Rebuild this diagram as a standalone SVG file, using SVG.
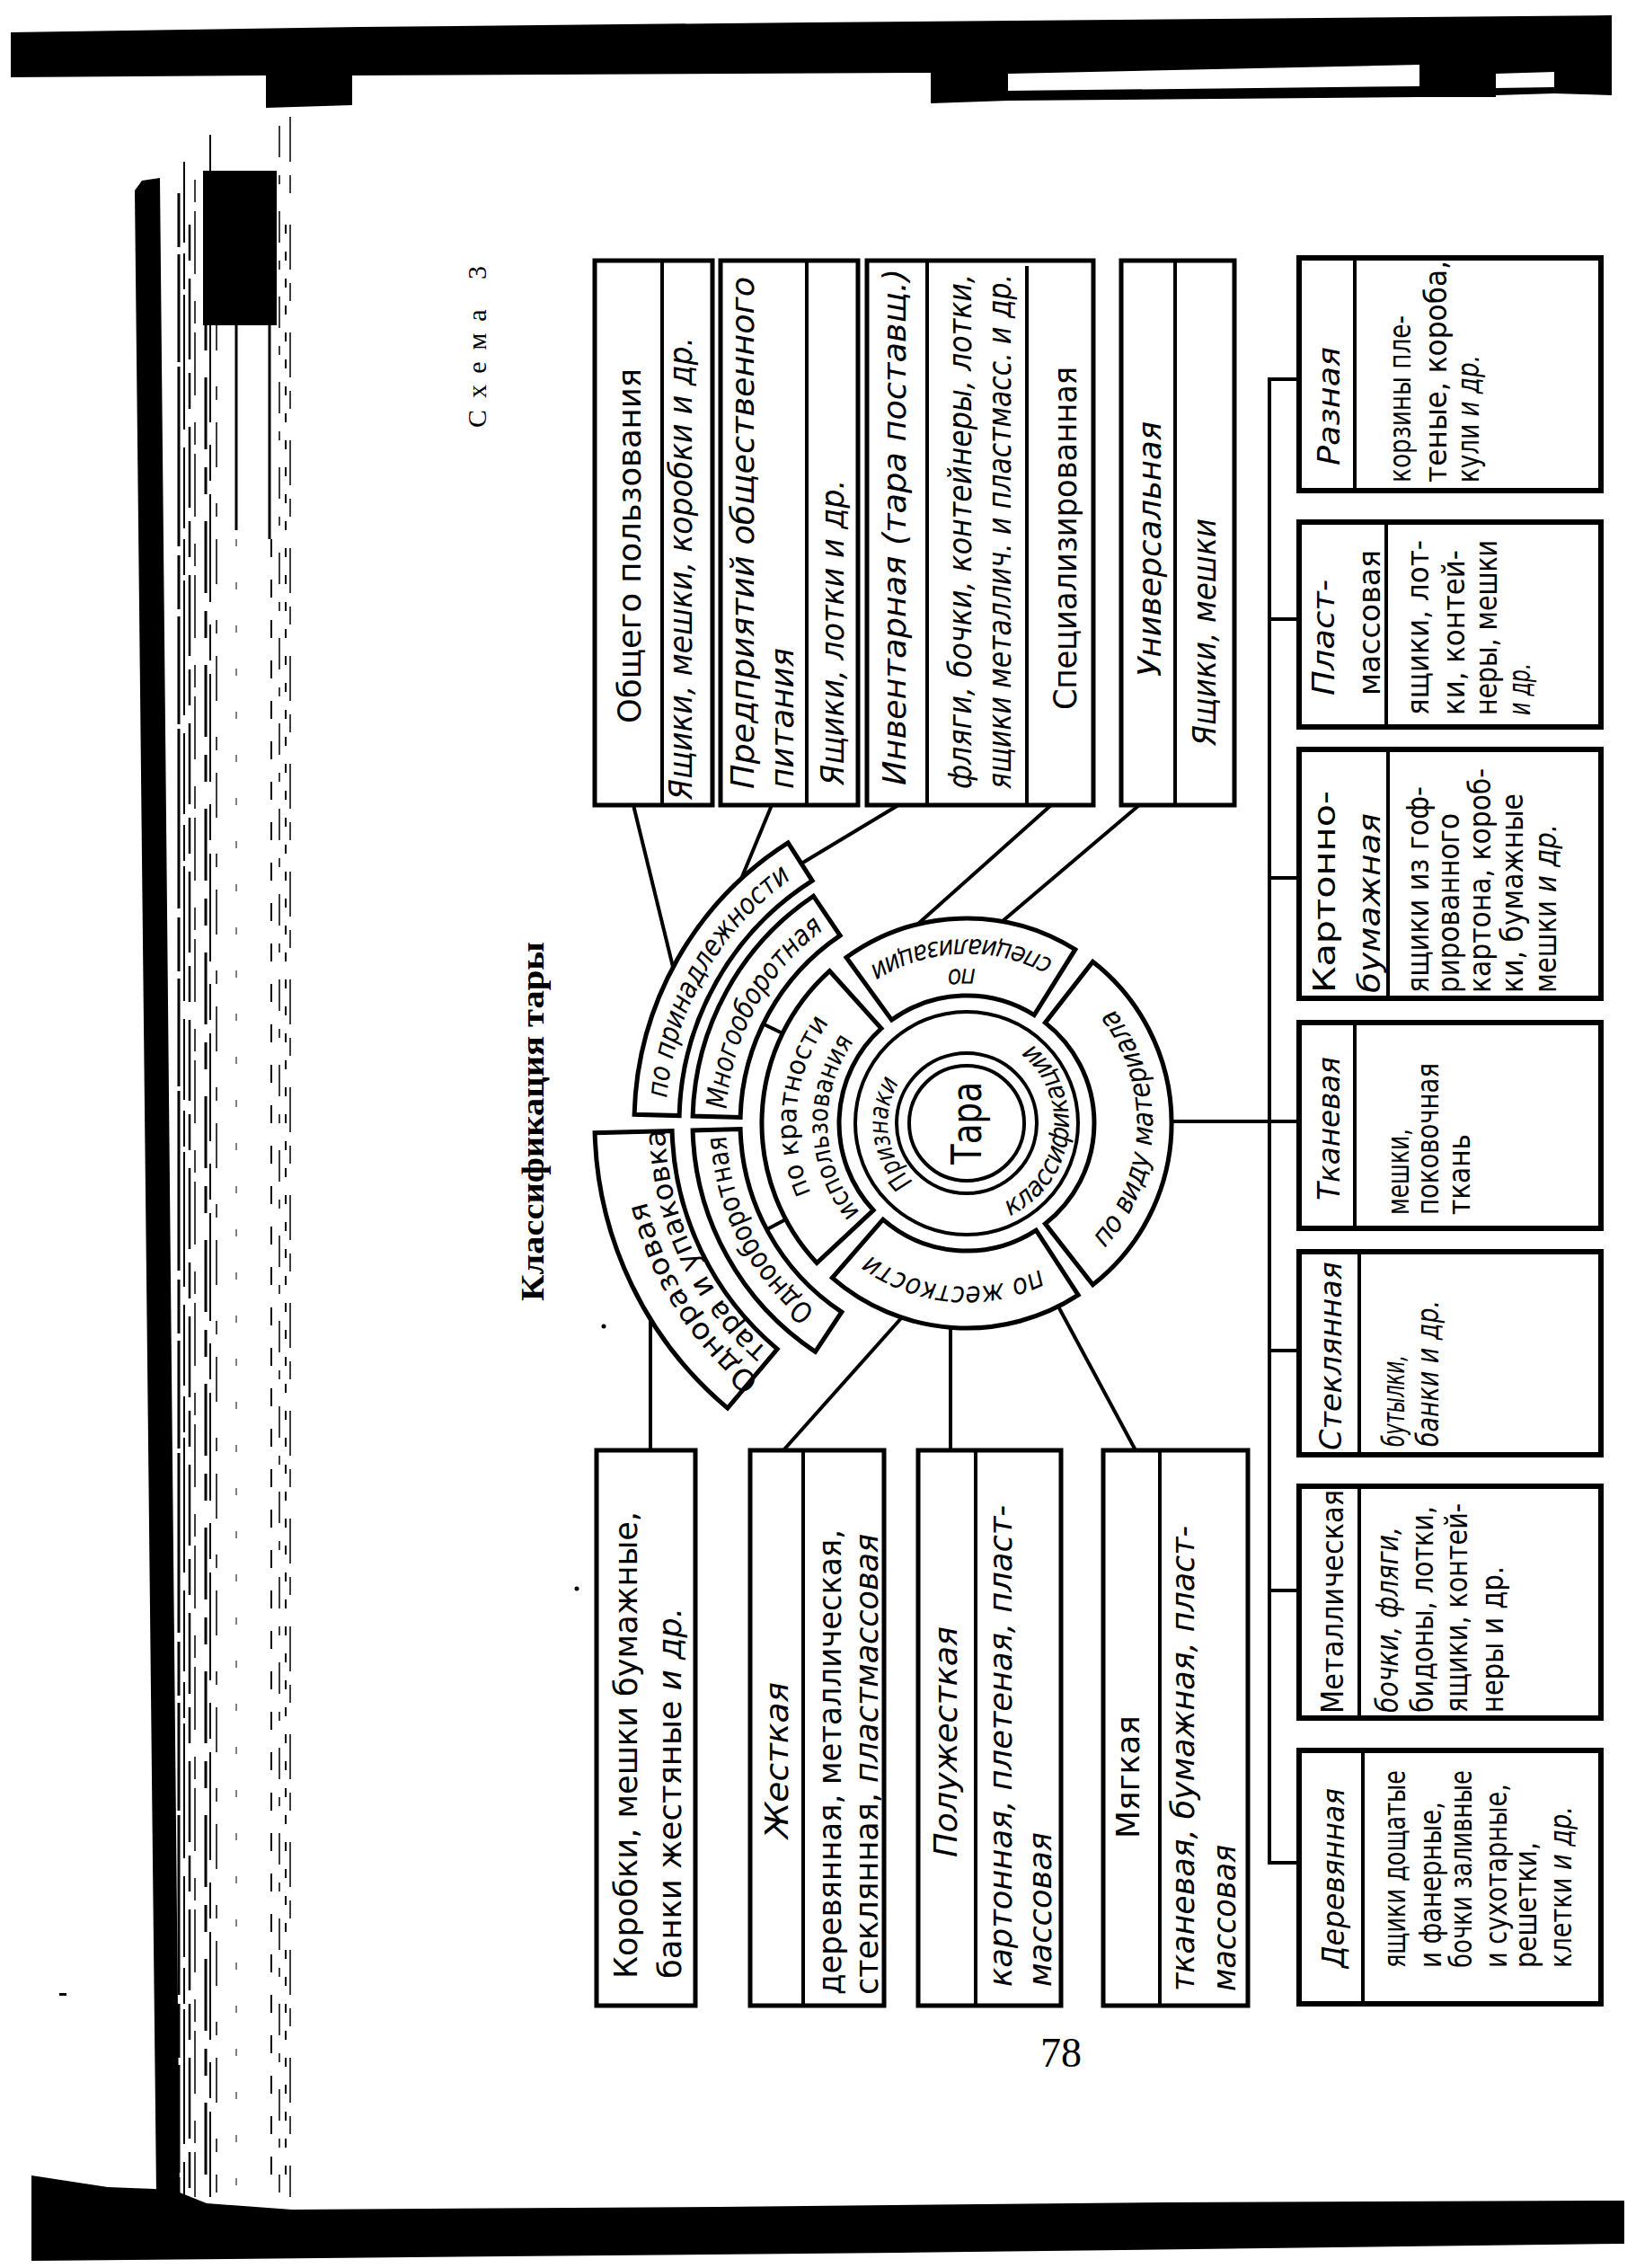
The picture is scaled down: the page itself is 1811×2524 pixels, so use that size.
<svg xmlns="http://www.w3.org/2000/svg" width="1811" height="2524" viewBox="0 0 1811 2524">
<defs>
<style>
.box{fill:#fff;stroke:#000;stroke-width:5}
.mbox{fill:#fff;stroke:#000;stroke-width:6}
.dv{stroke:#000;stroke-width:4}
.seg{fill:#fff;stroke:#000;stroke-width:5}
.ring{fill:none;stroke:#000;stroke-width:4}
.cn path{fill:none;stroke:#000;stroke-width:4}
.t{font-family:'Liberation Sans Narrow','Arial Narrow','DejaVu Sans Condensed','Liberation Sans',sans-serif;fill:#000}
.i{font-style:italic}
.s36{font-size:36px}.s34{font-size:34px}.s32{font-size:32px}.s30{font-size:30px}.s46{font-size:46px}
.sf{font-family:'Liberation Serif','Times New Roman',serif;fill:#000}
.ink{fill:#000}
.edge{fill:none;stroke:#000}
</style>
<path id="aPriz" d="M1072.9,1337.9 A88,88 0 0 1 1048.8,1166.3"/>
<path id="aKlass" d="M1082.0,1363.8 A114,114 0 0 0 1109.3,1141.0"/>
<path id="aKrat1" d="M1023.6,1432.6 A190,190 0 0 1 1062.7,1060.5"/>
<path id="aKrat2" d="M1054.4,1403.5 A155,155 0 0 1 1043.8,1098.4"/>
<path id="aSpec1" d="M1244.2,1214.2 A172,172 0 0 0 905.7,1226.1"/>
<path id="aSpec2" d="M1276.5,1207.4 A205,205 0 0 0 873.0,1221.5"/>
<path id="aVid" d="M1104.8,1455.0 A207,207 0 0 0 1119.0,1047.5"/>
<path id="aZhest" d="M1251.8,1297.1 A182,182 0 0 1 894.7,1265.9"/>
<path id="aMnogo" d="M909.2,1459.7 A268,268 0 0 1 1161.0,995.9"/>
<path id="aOdnoob" d="M1154.4,1506.3 A268,268 0 0 1 914.7,1036.0"/>
<path id="aPrin" d="M862.5,1508.1 A335,335 0 0 1 1188.4,934.4"/>
<path id="aOdnoraz1" d="M1215.9,1589.3 A367,367 0 0 1 828.5,979.0"/>
<path id="aOdnoraz2" d="M1163.0,1574.5 A336,336 0 0 1 883.3,974.8"/>
</defs>

<rect x="0" y="0" width="1811" height="2524" fill="#fff"/>

<!-- scan borders and page edges -->
<g id="scan-edges">
<polygon class="ink" points="12,36 400,30 900,25 1794,17 1794,106 1730,104 1730,80 1665,82 1665,108 1580,108 1580,72 1122,82 1122,112 1036,115 1036,81 392,84 392,117 296,120 296,84 12,86"/>
<polygon class="ink" points="1122,101 1580,96 1580,108 1122,112"/>
<polygon class="ink" points="1665,98 1730,97 1730,104 1665,106"/>
<polygon class="ink" points="35,2421 120,2434 172,2436 200,2440 230,2452 325,2459 800,2456 1300,2451 1808,2449 1808,2497 1000,2507 35,2516"/>
<polygon class="ink" points="150,212 158,201 178,198 200,2442 174,2442"/>
<rect class="ink" x="226" y="190" width="82" height="172"/>
<g class="edge">
<path d="M199,215 V2445" stroke-width="3" stroke-dasharray="60 8 120 5 200 10"/>
<path d="M205,180 V2445" stroke-width="2" stroke-dasharray="90 12 40 6 150 20"/>
<path d="M211,250 V2440" stroke-width="2.5" stroke-dasharray="40 20 90 15"/>
<path d="M217,200 V2445" stroke-width="1.5" stroke-dasharray="25 10 70 30"/>
<path d="M229,360 V2440" stroke-width="3" stroke-dasharray="30 30 80 20"/>
<path d="M234,150 V2445" stroke-width="2" stroke-dasharray="120 25 40 15"/>
<path d="M241,300 V2440" stroke-width="1.5" stroke-dasharray="15 25 50 40"/>
<path d="M263,360 V590" stroke-width="3"/>
<path d="M263,600 V2440" stroke-width="1" stroke-dasharray="8 40"/>
<path d="M300,360 V600" stroke-width="3"/>
<path d="M302,600 V2440" stroke-width="2" stroke-dasharray="20 25"/>
<path d="M311,140 V2440" stroke-width="1.5" stroke-dasharray="35 20 10 30"/>
<path d="M318,250 V2440" stroke-width="2" stroke-dasharray="10 20"/>
<path d="M323,130 V2445" stroke-width="1.5" stroke-dasharray="50 15 20 35"/>
</g>
<circle class="ink" cx="672" cy="1476" r="2.5"/>
<circle class="ink" cx="642" cy="1768" r="2.5"/>
<rect class="ink" x="66" y="2218" width="8" height="3"/>
</g>

<!-- page labels -->
<g id="page-labels">
<text class="sf" font-size="30" transform="translate(530,386) rotate(-90)" x="0" y="11" text-anchor="middle" textLength="180" lengthAdjust="spacing">Схема 3</text>
<text class="sf" font-size="36" font-weight="bold" transform="translate(596,1248) rotate(-90)" x="0" y="9" text-anchor="middle" textLength="400" lengthAdjust="spacingAndGlyphs">Классификация тары</text>
<text class="sf" font-size="46" x="1181" y="2300" text-anchor="middle">78</text>
</g>

<!-- connectors -->
<g id="connectors" class="cn">
<path d="M705,896 L750,1080"/>
<path d="M859,896 L823,983"/>
<path d="M1000,896 L892,961"/>
<path d="M1170,896 L1022,1028"/>
<path d="M1268,896 L1116,1025"/>
<path d="M724,1614 L724,1464"/>
<path d="M872,1614 L1004,1466"/>
<path d="M1058,1614 L1058,1477"/>
<path d="M1264,1614 L1178,1454"/>
<path d="M871.1,1150 L849.5,1139.5"/>
<path d="M874.7,1357 L853.5,1368.3"/>
<path d="M1304,1248 L1413,1248"/>
<path d="M1413,420 L1413,2075"/>
<path d="M1413,422 H1446 M1413,689 H1446 M1413,977 H1446 M1413,1248 H1446 M1413,1503 H1446 M1413,1770 H1446 M1413,2073 H1446"/>
</g>

<!-- central circle -->
<g id="node-tara">
<circle class="ring" cx="1076" cy="1250" r="124"/>
<circle class="ring" cx="1076" cy="1250" r="78"/>
<circle class="ring" cx="1076" cy="1250" r="64"/>
<text class="t s46" transform="translate(1076,1250) rotate(-90)" x="0" y="16" text-anchor="middle" textLength="92" lengthAdjust="spacingAndGlyphs">Тара</text>
<text class="t s30 i" text-anchor="middle"><textPath href="#aPriz" startOffset="50%" textLength="120" lengthAdjust="spacingAndGlyphs">Признаки</textPath></text>
<text class="t s30 i" text-anchor="middle"><textPath href="#aKlass" startOffset="50%" textLength="230" lengthAdjust="spacingAndGlyphs">классификации</textPath></text>
</g>

<g id="node-po-kratnosti">
<path class="seg" d="M909.2,1405.5 A228,228 0 0 1 923.4,1080.6 L981.0,1144.5 A142,142 0 0 0 972.1,1346.8 Z"/>
<text class="t s30" text-anchor="middle"><textPath href="#aKrat1" startOffset="50%" textLength="200" lengthAdjust="spacingAndGlyphs">по кратности</textPath></text>
<text class="t s30" text-anchor="middle"><textPath href="#aKrat2" startOffset="50%" textLength="205" lengthAdjust="spacingAndGlyphs">использования</textPath></text>
</g>

<g id="node-po-specializacii">
<path class="seg" d="M942.0,1065.5 A228,228 0 0 1 1196.8,1056.7 L1151.2,1129.6 A142,142 0 0 0 992.5,1135.1 Z"/>
<text class="t s30 i" text-anchor="middle"><textPath href="#aSpec1" startOffset="50%" textLength="32" lengthAdjust="spacingAndGlyphs">по</textPath></text>
<text class="t s30 i" text-anchor="middle"><textPath href="#aSpec2" startOffset="50%" textLength="215" lengthAdjust="spacingAndGlyphs">специализации</textPath></text>
</g>

<g id="node-po-vidu-materiala">
<path class="seg" d="M1216.4,1070.3 A228,228 0 0 1 1216.4,1429.7 L1163.4,1361.9 A142,142 0 0 0 1163.4,1138.1 Z"/>
<text class="t s32 i" text-anchor="middle"><textPath href="#aVid" startOffset="50%" textLength="290" lengthAdjust="spacingAndGlyphs">по виду материала</textPath></text>
</g>

<g id="node-po-zhestkosti">
<path class="seg" d="M1200.2,1441.2 A228,228 0 0 1 926.4,1422.1 L982.8,1357.2 A142,142 0 0 0 1153.3,1369.1 Z"/>
<text class="t s32 i" text-anchor="middle"><textPath href="#aZhest" startOffset="50%" textLength="200" lengthAdjust="spacingAndGlyphs">по жесткости</textPath></text>
</g>

<g id="node-mnogooborotnaya">
<path class="seg" d="M771.1,1242.0 A305,305 0 0 1 905.4,997.2 L935.1,1041.1 A252,252 0 0 0 824.1,1243.4 Z"/>
<text class="t s32 i" text-anchor="middle"><textPath href="#aMnogo" startOffset="50%" textLength="235" lengthAdjust="spacingAndGlyphs">Многооборотная</textPath></text>
</g>

<g id="node-odnooborotnaya">
<path class="seg" d="M907.5,1504.3 A305,305 0 0 1 771.1,1258.0 L824.1,1256.6 A252,252 0 0 0 936.8,1460.1 Z"/>
<text class="t s32" text-anchor="middle"><textPath href="#aOdnoob" startOffset="50%" textLength="225" lengthAdjust="spacingAndGlyphs">Однооборотная</textPath></text>
</g>

<g id="node-po-prinadlezhnosti">
<path class="seg" d="M706.1,1240.3 A370,370 0 0 1 877.2,937.9 L904.1,980.1 A320,320 0 0 0 756.1,1241.6 Z"/>
<text class="t s32 i" text-anchor="middle"><textPath href="#aPrin" startOffset="50%" textLength="290" lengthAdjust="spacingAndGlyphs">по принадлежности</textPath></text>
</g>

<g id="node-odnorazovaya">
<path class="seg" d="M809.9,1567.1 A414,414 0 0 1 662.1,1260.8 L748.1,1258.6 A328,328 0 0 0 865.2,1501.3 Z"/>
<text class="t s32" text-anchor="middle"><textPath href="#aOdnoraz1" startOffset="50%" textLength="240" lengthAdjust="spacingAndGlyphs">Одноразовая</textPath></text>
<text class="t s32" text-anchor="middle"><textPath href="#aOdnoraz2" startOffset="50%" textLength="280" lengthAdjust="spacingAndGlyphs">тара и упаковка</textPath></text>
</g>

<!-- top boxes -->
<g id="node-obshego" transform="translate(662,896) rotate(-90)">
<rect class="box" x="0" y="0" width="606" height="131"/>
<line class="dv" x1="0" y1="75" x2="606" y2="75"/>
<text class="t s36" x="91" y="51" textLength="395" lengthAdjust="spacingAndGlyphs">Общего пользования</text>
<text class="t s36 i" x="6" y="108" textLength="515" lengthAdjust="spacingAndGlyphs">Ящики, мешки, коробки и др.</text>
</g>

<g id="node-predpriyatiy" transform="translate(802,896) rotate(-90)">
<rect class="box" x="0" y="0" width="606" height="153"/>
<line class="dv" x1="0" y1="96" x2="606" y2="96"/>
<text class="t s36 i" x="18" y="37" textLength="570" lengthAdjust="spacingAndGlyphs">Предприятий общественного</text>
<text class="t s36 i" x="18" y="81" textLength="157" lengthAdjust="spacingAndGlyphs">питания</text>
<text class="t s36 i" x="22" y="137" textLength="340" lengthAdjust="spacingAndGlyphs">Ящики, лотки и др.</text>
</g>

<g id="node-inventarnaya" transform="translate(965,896) rotate(-90)">
<rect class="box" x="0" y="0" width="606" height="252"/>
<line class="dv" x1="0" y1="67" x2="606" y2="67"/>
<line class="dv" x1="0" y1="178" x2="600" y2="178"/>
<text class="t s36 i" x="22" y="43" textLength="575" lengthAdjust="spacingAndGlyphs">Инвентарная (тара поставщ.)</text>
<text class="t s36 i" x="18" y="116" textLength="573" lengthAdjust="spacingAndGlyphs">фляги, бочки, контейнеры, лотки,</text>
<text class="t s36 i" x="18" y="160" textLength="573" lengthAdjust="spacingAndGlyphs">ящики металлич. и пластмасс. и др.</text>
<text class="t s36" x="106" y="233" textLength="382" lengthAdjust="spacingAndGlyphs">Специализированная</text>
</g>

<g id="node-universalnaya" transform="translate(1248,896) rotate(-90)">
<rect class="box" x="0" y="0" width="606" height="126"/>
<line class="dv" x1="0" y1="60" x2="606" y2="60"/>
<text class="t s36 i" x="143" y="44" textLength="284" lengthAdjust="spacingAndGlyphs">Универсальная</text>
<text class="t s36 i" x="66" y="105" textLength="253" lengthAdjust="spacingAndGlyphs">Ящики, мешки</text>
</g>

<!-- bottom-left boxes -->
<g id="node-korobki" transform="translate(664,2232) rotate(-90)">
<rect class="box" x="0" y="0" width="618" height="110"/>
<text class="t s36" x="30" y="45" textLength="520" lengthAdjust="spacingAndGlyphs">Коробки, мешки бумажные,</text>
<text class="t s36" x="30" y="94" textLength="413" lengthAdjust="spacingAndGlyphs">банки жестяные <tspan class="i">и др.</tspan></text>
</g>

<g id="node-zhestkaya" transform="translate(835,2232) rotate(-90)">
<rect class="box" x="0" y="0" width="618" height="149"/>
<line class="dv" x1="0" y1="59" x2="618" y2="59"/>
<text class="t s36 i" x="186" y="42" textLength="174" lengthAdjust="spacingAndGlyphs">Жесткая</text>
<text class="t s36" x="12" y="101" textLength="518" lengthAdjust="spacingAndGlyphs">деревянная, металлическая,</text>
<text class="t s36" x="12" y="142" textLength="513" lengthAdjust="spacingAndGlyphs">стеклянная, <tspan class="i">пластмассовая</tspan></text>
</g>

<g id="node-poluzhestkaya" transform="translate(1022,2232) rotate(-90)">
<rect class="box" x="0" y="0" width="618" height="159"/>
<line class="dv" x1="0" y1="64" x2="618" y2="64"/>
<text class="t s36 i" x="165" y="43" textLength="257" lengthAdjust="spacingAndGlyphs">Полужесткая</text>
<text class="t s36 i" x="21" y="104" textLength="536" lengthAdjust="spacingAndGlyphs">картонная, плетеная, пласт-</text>
<text class="t s36 i" x="21" y="148" textLength="172" lengthAdjust="spacingAndGlyphs">массовая</text>
</g>

<g id="node-myagkaya" transform="translate(1228,2232) rotate(-90)">
<rect class="box" x="0" y="0" width="618" height="161"/>
<line class="dv" x1="0" y1="63" x2="618" y2="63"/>
<text class="t s36" x="186" y="40" textLength="137" lengthAdjust="spacingAndGlyphs">Мягкая</text>
<text class="t s36 i" x="16" y="101" textLength="518" lengthAdjust="spacingAndGlyphs">тканевая, бумажная, пласт-</text>
<text class="t s36 i" x="16" y="147" textLength="163" lengthAdjust="spacingAndGlyphs">массовая</text>
</g>

<!-- material boxes -->
<g id="node-raznaya" transform="translate(1446,546) rotate(-90)">
<rect class="mbox" x="0" y="0" width="259" height="336"/>
<line class="dv" x1="0" y1="62" x2="259" y2="62"/>
<text class="t s34 i" x="28" y="45" textLength="132" lengthAdjust="spacingAndGlyphs">Разная</text>
<text class="t s34" x="9" y="124" textLength="186" lengthAdjust="spacingAndGlyphs">корзины пле-</text>
<text class="t s34" x="9" y="164" textLength="247" lengthAdjust="spacingAndGlyphs">теные, короба,</text>
<text class="t s34" x="9" y="200" textLength="142" lengthAdjust="spacingAndGlyphs">кули <tspan class="i">и др.</tspan></text>
</g>

<g id="node-plastmassovaya" transform="translate(1446,809) rotate(-90)">
<rect class="mbox" x="0" y="0" width="228" height="336"/>
<line class="dv" x1="0" y1="97" x2="228" y2="97"/>
<text class="t s34 i" x="35" y="39" textLength="129" lengthAdjust="spacingAndGlyphs">Пласт-</text>
<text class="t s34" x="35" y="90" textLength="162" lengthAdjust="spacingAndGlyphs">массовая</text>
<text class="t s34" x="13" y="144" textLength="195" lengthAdjust="spacingAndGlyphs">ящики, лот-</text>
<text class="t s34" x="13" y="184" textLength="184" lengthAdjust="spacingAndGlyphs">ки, контей-</text>
<text class="t s34" x="13" y="220" textLength="195" lengthAdjust="spacingAndGlyphs">неры, мешки</text>
<text class="t s34 i" x="13" y="257" textLength="58" lengthAdjust="spacingAndGlyphs">и др.</text>
</g>

<g id="node-kartonno" transform="translate(1446,1111) rotate(-90)">
<rect class="mbox" x="0" y="0" width="277" height="336"/>
<line class="dv" x1="0" y1="99" x2="277" y2="99"/>
<text class="t s34" x="6" y="40" textLength="225" lengthAdjust="spacingAndGlyphs">Картонно-</text>
<text class="t s34 i" x="6" y="90" textLength="200" lengthAdjust="spacingAndGlyphs">бумажная</text>
<text class="t s34" x="6" y="144" textLength="230" lengthAdjust="spacingAndGlyphs">ящики из гоф-</text>
<text class="t s34" x="6" y="178" textLength="200" lengthAdjust="spacingAndGlyphs">рированного</text>
<text class="t s34" x="6" y="213" textLength="250" lengthAdjust="spacingAndGlyphs">картона, короб-</text>
<text class="t s34" x="6" y="249" textLength="222" lengthAdjust="spacingAndGlyphs">ки, бумажные</text>
<text class="t s34" x="6" y="286" textLength="188" lengthAdjust="spacingAndGlyphs">мешки <tspan class="i">и др.</tspan></text>
</g>

<g id="node-tkanevaya" transform="translate(1446,1367) rotate(-90)">
<rect class="mbox" x="0" y="0" width="229" height="336"/>
<line class="dv" x1="0" y1="62" x2="229" y2="62"/>
<text class="t s34 i" x="31" y="45" textLength="160" lengthAdjust="spacingAndGlyphs">Тканевая</text>
<text class="t s34" x="15" y="122" textLength="96" lengthAdjust="spacingAndGlyphs">мешки,</text>
<text class="t s34" x="15" y="155" textLength="169" lengthAdjust="spacingAndGlyphs">поковочная</text>
<text class="t s34" x="15" y="190" textLength="90" lengthAdjust="spacingAndGlyphs">ткань</text>
</g>

<g id="node-steklyannaya" transform="translate(1446,1619) rotate(-90)">
<rect class="mbox" x="0" y="0" width="226" height="336"/>
<line class="dv" x1="0" y1="67" x2="226" y2="67"/>
<text class="t s34 i" x="5" y="47" textLength="210" lengthAdjust="spacingAndGlyphs">Стеклянная</text>
<text class="t s34 i" x="9" y="117" textLength="102" lengthAdjust="spacingAndGlyphs">бутылки,</text>
<text class="t s34 i" x="9" y="155" textLength="163" lengthAdjust="spacingAndGlyphs">банки и др.</text>
</g>

<g id="node-metallicheskaya" transform="translate(1446,1912) rotate(-90)">
<rect class="mbox" x="0" y="0" width="258" height="336"/>
<line class="dv" x1="0" y1="67" x2="258" y2="67"/>
<text class="t s34" x="5" y="49" textLength="249" lengthAdjust="spacingAndGlyphs">Металлическая</text>
<text class="t s34 i" x="6" y="110" textLength="207" lengthAdjust="spacingAndGlyphs">бочки, фляги,</text>
<text class="t s34" x="6" y="149" textLength="230" lengthAdjust="spacingAndGlyphs">бидоны, лотки,</text>
<text class="t s34" x="6" y="187" textLength="233" lengthAdjust="spacingAndGlyphs">ящики, контей-</text>
<text class="t s34" x="6" y="227" textLength="163" lengthAdjust="spacingAndGlyphs">неры и др.</text>
</g>

<g id="node-derevyannaya" transform="translate(1446,2230) rotate(-90)">
<rect class="mbox" x="0" y="0" width="282" height="336"/>
<line class="dv" x1="0" y1="71" x2="282" y2="71"/>
<text class="t s34 i" x="40" y="50" textLength="200" lengthAdjust="spacingAndGlyphs">Деревянная</text>
<text class="t s34" x="40" y="118" textLength="220" lengthAdjust="spacingAndGlyphs">ящики дощатые</text>
<text class="t s34" x="40" y="158" textLength="185" lengthAdjust="spacingAndGlyphs">и фанерные,</text>
<text class="t s34" x="40" y="192" textLength="220" lengthAdjust="spacingAndGlyphs">бочки заливные</text>
<text class="t s34" x="40" y="231" textLength="205" lengthAdjust="spacingAndGlyphs">и сухотарные,</text>
<text class="t s34" x="40" y="264" textLength="140" lengthAdjust="spacingAndGlyphs">решетки,</text>
<text class="t s34" x="40" y="303" textLength="180" lengthAdjust="spacingAndGlyphs">клетки <tspan class="i">и др.</tspan></text>
</g>
</svg>
